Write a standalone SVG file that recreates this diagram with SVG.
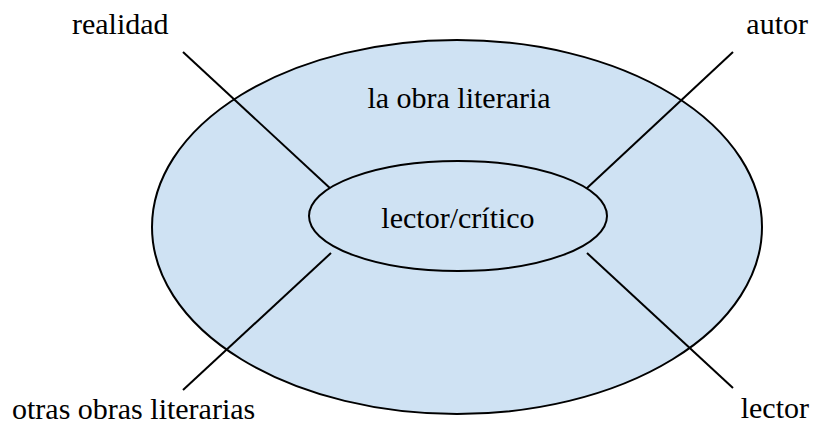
<svg xmlns="http://www.w3.org/2000/svg" width="815" height="425" viewBox="0 0 815 425">
<style>
.shape{fill:#cfe2f3;stroke:#000;stroke-width:2}
.ln{stroke:#000;stroke-width:2;fill:none}
text{font-family:"Liberation Serif","Times New Roman",serif;font-size:30px;fill:#000}
</style>
<rect width="815" height="425" fill="#fff"/>
<g id="outer">
<ellipse class="shape" cx="457" cy="227" rx="305" ry="187"/>
<text x="459" y="108" text-anchor="middle">la obra literaria</text>
</g>
<g id="connectors">
<line class="ln" x1="183" y1="52" x2="332" y2="190"/>
<line class="ln" x1="733" y1="52" x2="586" y2="189"/>
<line class="ln" x1="183" y1="390" x2="331" y2="253"/>
<line class="ln" x1="733" y1="388" x2="587" y2="253"/>
</g>
<g id="inner">
<ellipse class="shape" cx="458" cy="216" rx="149" ry="55"/>
<text x="458" y="228" text-anchor="middle">lector/crítico</text>
</g>
<g id="realidad"><text x="72" y="34">realidad</text></g>
<g id="autor"><text x="808" y="34" text-anchor="end">autor</text></g>
<g id="otras"><text x="12" y="419">otras obras literarias</text></g>
<g id="lector"><text x="809" y="418" text-anchor="end">lector</text></g>
</svg>
